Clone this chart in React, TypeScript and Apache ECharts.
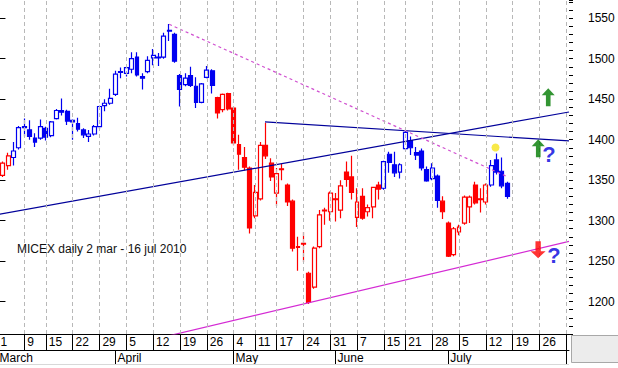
import { useEffect, useRef } from "react";
import * as echarts from "echarts";

// Trading days of the MICEX session calendar (MM-DD, 2010), incl. future empty days
const tradingDays = [
  "03-01", "03-02", "03-03", "03-04", "03-05", "03-09", "03-10", "03-11", "03-12",
  "03-15", "03-16", "03-17", "03-18", "03-19", "03-22", "03-23", "03-24", "03-25", "03-26",
  "03-29", "03-30", "03-31", "04-01", "04-02", "04-05", "04-06", "04-07", "04-08", "04-09",
  "04-12", "04-13", "04-14", "04-15", "04-16", "04-19", "04-20", "04-21", "04-22", "04-23",
  "04-26", "04-27", "04-28", "04-29", "04-30", "05-04", "05-05", "05-06", "05-07",
  "05-11", "05-12", "05-13", "05-14", "05-17", "05-18", "05-19", "05-20", "05-21",
  "05-24", "05-25", "05-26", "05-27", "05-28", "05-31", "06-01", "06-02", "06-03", "06-04",
  "06-07", "06-08", "06-09", "06-10", "06-11", "06-15", "06-16", "06-17", "06-18",
  "06-21", "06-22", "06-23", "06-24", "06-25", "06-28", "06-29", "06-30", "07-01", "07-02",
  "07-05", "07-06", "07-07", "07-08", "07-09", "07-12", "07-13", "07-14", "07-15", "07-16",
  "07-19", "07-20", "07-21", "07-22", "07-23", "07-26", "07-27", "07-28", "07-29", "07-30",
  "08-02",
];

const firstCandleDay = "03-02";

// OHLC, 2 Mar .. 16 Jul 2010
const openValues = [
  1356, 1368, 1378, 1390, 1415, 1412, 1402, 1402, 1414, 1405,
  1426, 1436, 1435, 1424, 1420, 1412, 1404, 1407, 1416, 1442,
  1445, 1456, 1483, 1482, 1487, 1502, 1478, 1484, 1501, 1502,
  1502, 1534, 1530, 1479, 1468, 1479, 1466, 1446, 1477, 1485,
  1452, 1437, 1457, 1439, 1394, 1378, 1365, 1306, 1327, 1393,
  1371, 1334, 1364, 1344, 1324, 1268, 1271, 1235, 1218, 1268,
  1312, 1311, 1327, 1313, 1360, 1354, 1304, 1330, 1311, 1317,
  1344, 1340, 1382, 1369, 1360, 1389, 1399, 1384, 1386, 1363,
  1352, 1355, 1324, 1297, 1258, 1286, 1297, 1317, 1344, 1327,
  1323, 1344, 1375, 1361, 1346,
];
const closeValues = [
  1371, 1380, 1386, 1415, 1416, 1404, 1397, 1416, 1403, 1422,
  1436, 1434, 1423, 1422, 1413, 1406, 1407, 1416, 1441, 1445,
  1451, 1481, 1484, 1489, 1500, 1480, 1476, 1498, 1504, 1501,
  1528, 1535, 1497, 1462, 1476, 1467, 1446, 1469, 1486, 1467,
  1433, 1456, 1438, 1396, 1382, 1366, 1291, 1335, 1393, 1380,
  1354, 1358, 1363, 1323, 1266, 1267, 1272, 1199, 1266, 1307,
  1313, 1334, 1326, 1343, 1351, 1335, 1323, 1303, 1316, 1341,
  1339, 1373, 1372, 1359, 1369, 1409, 1390, 1381, 1365, 1349,
  1365, 1325, 1311, 1256, 1290, 1292, 1329, 1329, 1322, 1326,
  1344, 1368, 1360, 1343, 1330,
];
const lowValues = [
  1354, 1363, 1368, 1388, 1404, 1400, 1391, 1400, 1399, 1403,
  1425, 1430, 1418, 1400, 1410, 1402, 1397, 1405, 1413, 1435,
  1443, 1454, 1476, 1478, 1482, 1478, 1462, 1482, 1492, 1491,
  1500, 1522, 1495, 1441, 1466, 1465, 1439, 1445, 1476, 1457,
  1426, 1434, 1436, 1393, 1363, 1362, 1284, 1303, 1325, 1376,
  1349, 1318, 1350, 1318, 1262, 1238, 1249, 1197, 1216, 1266,
  1295, 1300, 1299, 1303, 1342, 1326, 1292, 1301, 1305, 1303,
  1326, 1338, 1359, 1354, 1352, 1387, 1381, 1375, 1362, 1348,
  1350, 1316, 1302, 1255, 1256, 1282, 1295, 1297, 1320, 1310,
  1320, 1342, 1357, 1340, 1327,
];
const highValues = [
  1373, 1384, 1397, 1417, 1426, 1424, 1408, 1425, 1416, 1423,
  1438, 1451, 1437, 1425, 1427, 1414, 1412, 1418, 1442, 1450,
  1463, 1485, 1489, 1490, 1508, 1508, 1482, 1503, 1512, 1507,
  1532, 1543, 1532, 1481, 1482, 1490, 1477, 1470, 1491, 1487,
  1453, 1457, 1458, 1441, 1406, 1391, 1367, 1344, 1397, 1421,
  1377, 1365, 1370, 1346, 1326, 1280, 1286, 1237, 1268, 1313,
  1316, 1336, 1334, 1350, 1373, 1380, 1340, 1340, 1320, 1342,
  1348, 1374, 1385, 1385, 1371, 1411, 1404, 1391, 1389, 1367,
  1371, 1357, 1330, 1299, 1292, 1295, 1331, 1331, 1348, 1340,
  1346, 1375, 1383, 1378, 1348,
];
// trend signal of each session: "up" (blue) / "down" (red)
const trendSignal = [
  "down", "down",
  "up", "up", "up", "up", "up", "up", "up", "up", "up", "up",
  "up", "up", "up", "up", "up", "up", "up", "up", "up", "up",
  "up", "up", "up", "up", "up", "up", "up", "up", "up", "up",
  "up", "up", "up", "up", "up", "up", "up", "up",
  "down", "down", "down", "down", "down", "down", "down", "down", "down", "down",
  "down", "down", "down", "down", "down", "down", "down", "down", "down", "down",
  "down", "down", "down", "down", "down", "down", "down", "down", "down", "down",
  "down",
  "up", "up", "up", "up", "up", "up", "up", "up", "up", "up", "up",
  "down", "down", "down", "down", "down", "down", "down", "down", "down",
  "up", "up", "up", "up",
];

// Trend lines: [session position, index level]
const risingChannelLine = [[-0.5, 1306.8], [106.5, 1434.2]];
const fallingResistanceLine = [[49.85, 1422], [106.5, 1398.4]];
const supportLine = [[30, 1154.8], [106.5, 1274.3]];
const downtrendLine = [[32, 1542.5], [95.1, 1354]];

// Annotations: [session position, index level]
const upArrowPoints = [[102.63, 1452.5], [100.77, 1389.4]];
const downArrowPoints = [[100.75, 1264.2]];
const questionPoints = [[102.76, 1381.1], [103.7, 1256.4]];
const signalPoints = [[92.8, 1390.4]];

const chartTitle = "MICEX daily 2 mar - 16 jul 2010";
const monthNames: Record<string, string> = {
  "03": "March", "04": "April", "05": "May", "06": "June", "07": "July", "08": "August",
};

const BLUE = "#0000F0";
const RED = "#FF0000";
const NAVY = "#00009A";
const PINK = "#D42AD4";
const FONT = "'Liberation Sans', Arial, sans-serif";

const dow = (d: string) => new Date(2010, Number(d.slice(0, 2)) - 1, Number(d.slice(3))).getDay();
const isWeekStart = tradingDays.map((d, i) => i === 0 || dow(d) < dow(tradingDays[i - 1]));
const isMonthStart = tradingDays.map((d, i) => i === 0 || d.slice(0, 2) !== tradingDays[i - 1].slice(0, 2));
const lastIdx = tradingDays.length - 1;

export default function App() {
  const ref = useRef<HTMLDivElement>(null);

  useEffect(() => {
    if (!ref.current) return;
    const chart = echarts.init(ref.current, undefined, { renderer: "svg" });
    const first = tradingDays.indexOf(firstCandleDay);
    const candleData = (signal: string) =>
      tradingDays.map((_, i) => {
        const k = i - first;
        if (k < 0 || k >= openValues.length || trendSignal[k] !== signal) return "-";
        return [openValues[k], closeValues[k], lowValues[k], highValues[k]];
      });
    const candleStyle = (c: string) => ({
      color: "#ffffff",
      color0: c,
      borderColor: c,
      borderColor0: c,
      borderColorDoji: c,
      borderWidth: 1.2,
    });
    const weekStartIdx = tradingDays.map((_, i) => i).filter((i) => isWeekStart[i]);

    chart.setOption({
      animation: false,
      backgroundColor: "#ffffff",
      textStyle: { fontFamily: FONT },
      title: {
        text: chartTitle,
        left: 17,
        top: 243,
        padding: 0,
        textStyle: { fontSize: 12, fontWeight: "normal", color: "#111", fontFamily: FONT },
      },
      grid: { left: -5.22, right: 49, top: 0, bottom: 34, outerBoundsMode: "none", containLabel: false },
      xAxis: [
        {
          type: "category",
          data: tradingDays,
          position: "bottom",
          boundaryGap: true,
          axisLine: { show: true, lineStyle: { color: "#000", width: 1 } },
          axisTick: {
            show: true,
            alignWithLabel: true,
            interval: (i: number) => isWeekStart[i],
            length: 16,
            lineStyle: { color: "#000", width: 1 },
          },
          axisLabel: {
            interval: (i: number) => isWeekStart[i],
            formatter: (v: string) => (v === tradingDays[lastIdx] ? "" : String(Number(v.slice(3)))),
            align: "left",
            padding: [0, 0, 0, 3],
            margin: 2,
            fontSize: 12,
            color: "#000",
            fontFamily: FONT,
          },
          splitLine: { show: false },
        },
        {
          type: "category",
          data: tradingDays,
          position: "bottom",
          offset: 16,
          boundaryGap: true,
          axisLine: { show: true, lineStyle: { color: "#000", width: 1 } },
          axisTick: {
            show: true,
            alignWithLabel: true,
            interval: (i: number) => isMonthStart[i],
            length: 14,
            lineStyle: { color: "#000", width: 1 },
          },
          axisLabel: {
            interval: (i: number) => isMonthStart[i],
            formatter: (v: string) => (v === tradingDays[lastIdx] ? "" : monthNames[v.slice(0, 2)]),
            align: "left",
            padding: [0, 0, 0, 2],
            margin: 2,
            fontSize: 12,
            color: "#000",
            fontFamily: FONT,
          },
          splitLine: { show: false },
        },
        {
          type: "value",
          position: "bottom",
          min: -0.5,
          max: lastIdx + 0.5,
          show: false,
        },
      ],
      yAxis: [
        {
          type: "value",
          position: "right",
          min: 1160,
          max: 1572.5,
          splitNumber: 8,
          axisLine: { show: true, lineStyle: { color: "#000", width: 1 } },
          axisTick: { show: true, length: 8, lineStyle: { color: "#000", width: 1 } },
          axisLabel: {
            margin: 19,
            fontSize: 12,
            color: "#000",
            fontFamily: FONT,
            showMinLabel: false,
            showMaxLabel: false,
            formatter: (v: number) => String(v),
          },
          splitLine: { show: false },
        },
        {
          type: "value",
          position: "right",
          min: 1160,
          max: 1572.5,
          interval: 10,
          axisLine: { show: false },
          axisTick: { show: true, length: 4, lineStyle: { color: "#000", width: 1 } },
          axisLabel: { show: false },
          splitLine: { show: false },
        },
      ],
      series: [
        {
          type: "line",
          xAxisIndex: 2,
          yAxisIndex: 0,
          data: [],
          silent: true,
          z: 1,
          markLine: {
            silent: true,
            symbol: ["none", "none"],
            label: { show: false },
            lineStyle: { color: "#B8B8B8", type: [4, 3], width: 1 },
            data: weekStartIdx.map((i) => ({ xAxis: i })),
          },
        },
        {
          type: "candlestick",
          xAxisIndex: 0,
          yAxisIndex: 0,
          data: candleData("up"),
          barWidth: 4.4,
          z: 3,
          silent: true,
          itemStyle: candleStyle(BLUE),
        },
        {
          type: "candlestick",
          xAxisIndex: 0,
          yAxisIndex: 0,
          data: candleData("down"),
          barWidth: 4.4,
          z: 3,
          silent: true,
          itemStyle: candleStyle(RED),
        },
        ...[
          { d: risingChannelLine, c: NAVY, t: "solid" },
          { d: fallingResistanceLine, c: NAVY, t: "solid" },
          { d: supportLine, c: PINK, t: "solid" },
          { d: downtrendLine, c: "#D050D0", t: [3, 3] },
        ].map((l) => ({
          type: "line",
          xAxisIndex: 2,
          yAxisIndex: 0,
          data: l.d,
          symbol: "none",
          silent: true,
          z: 4,
          clip: true,
          lineStyle: { color: l.c, width: 1.2, type: l.t },
        })),
        {
          type: "scatter",
          xAxisIndex: 2,
          yAxisIndex: 0,
          data: signalPoints,
          symbol: "circle",
          symbolSize: 8,
          silent: true,
          z: 5,
          itemStyle: { color: "#F6E31C" },
        },
        {
          type: "scatter",
          xAxisIndex: 2,
          yAxisIndex: 0,
          data: upArrowPoints,
          symbol: "path://M7,0 L14,7 L9.5,7 L9.5,18 L4.5,18 L4.5,7 L0,7 Z",
          symbolSize: [13, 18],
          silent: true,
          z: 5,
          itemStyle: { color: "#007A00" },
        },
        {
          type: "scatter",
          xAxisIndex: 2,
          yAxisIndex: 0,
          data: downArrowPoints,
          symbol: "path://M4.5,0 L9.5,0 L9.5,10 L14,10 L7,17 L0,10 L4.5,10 Z",
          symbolSize: [15, 17],
          silent: true,
          z: 5,
          itemStyle: { color: "#FF0000" },
        },
        {
          type: "scatter",
          xAxisIndex: 2,
          yAxisIndex: 0,
          data: questionPoints,
          symbol: "circle",
          symbolSize: 1,
          silent: true,
          z: 5,
          itemStyle: { color: "rgba(0,0,0,0)" },
          label: {
            show: true,
            position: "inside",
            formatter: "?",
            fontSize: 22,
            fontWeight: "bold",
            color: "#0000DD",
            fontFamily: FONT,
          },
        },
      ],
      graphic: [
        {
          type: "rect",
          z: 100,
          shape: { x: 571.5, y: 335.5, width: 47, height: 27 },
          style: { fill: "#ECECEC", stroke: "#A8A8A8", lineWidth: 1 },
        },
        {
          type: "line",
          z: 100,
          shape: { x1: 0, y1: 364.5, x2: 569, y2: 364.5 },
          style: { stroke: "#D8D8D8", lineWidth: 1 },
        },
      ],
    });
    return () => chart.dispose();
  }, []);

  return (
    <div
      ref={ref}
      style={{ position: "fixed", left: 0, top: 0, width: 618, height: 368, background: "#fff" }}
    />
  );
}
